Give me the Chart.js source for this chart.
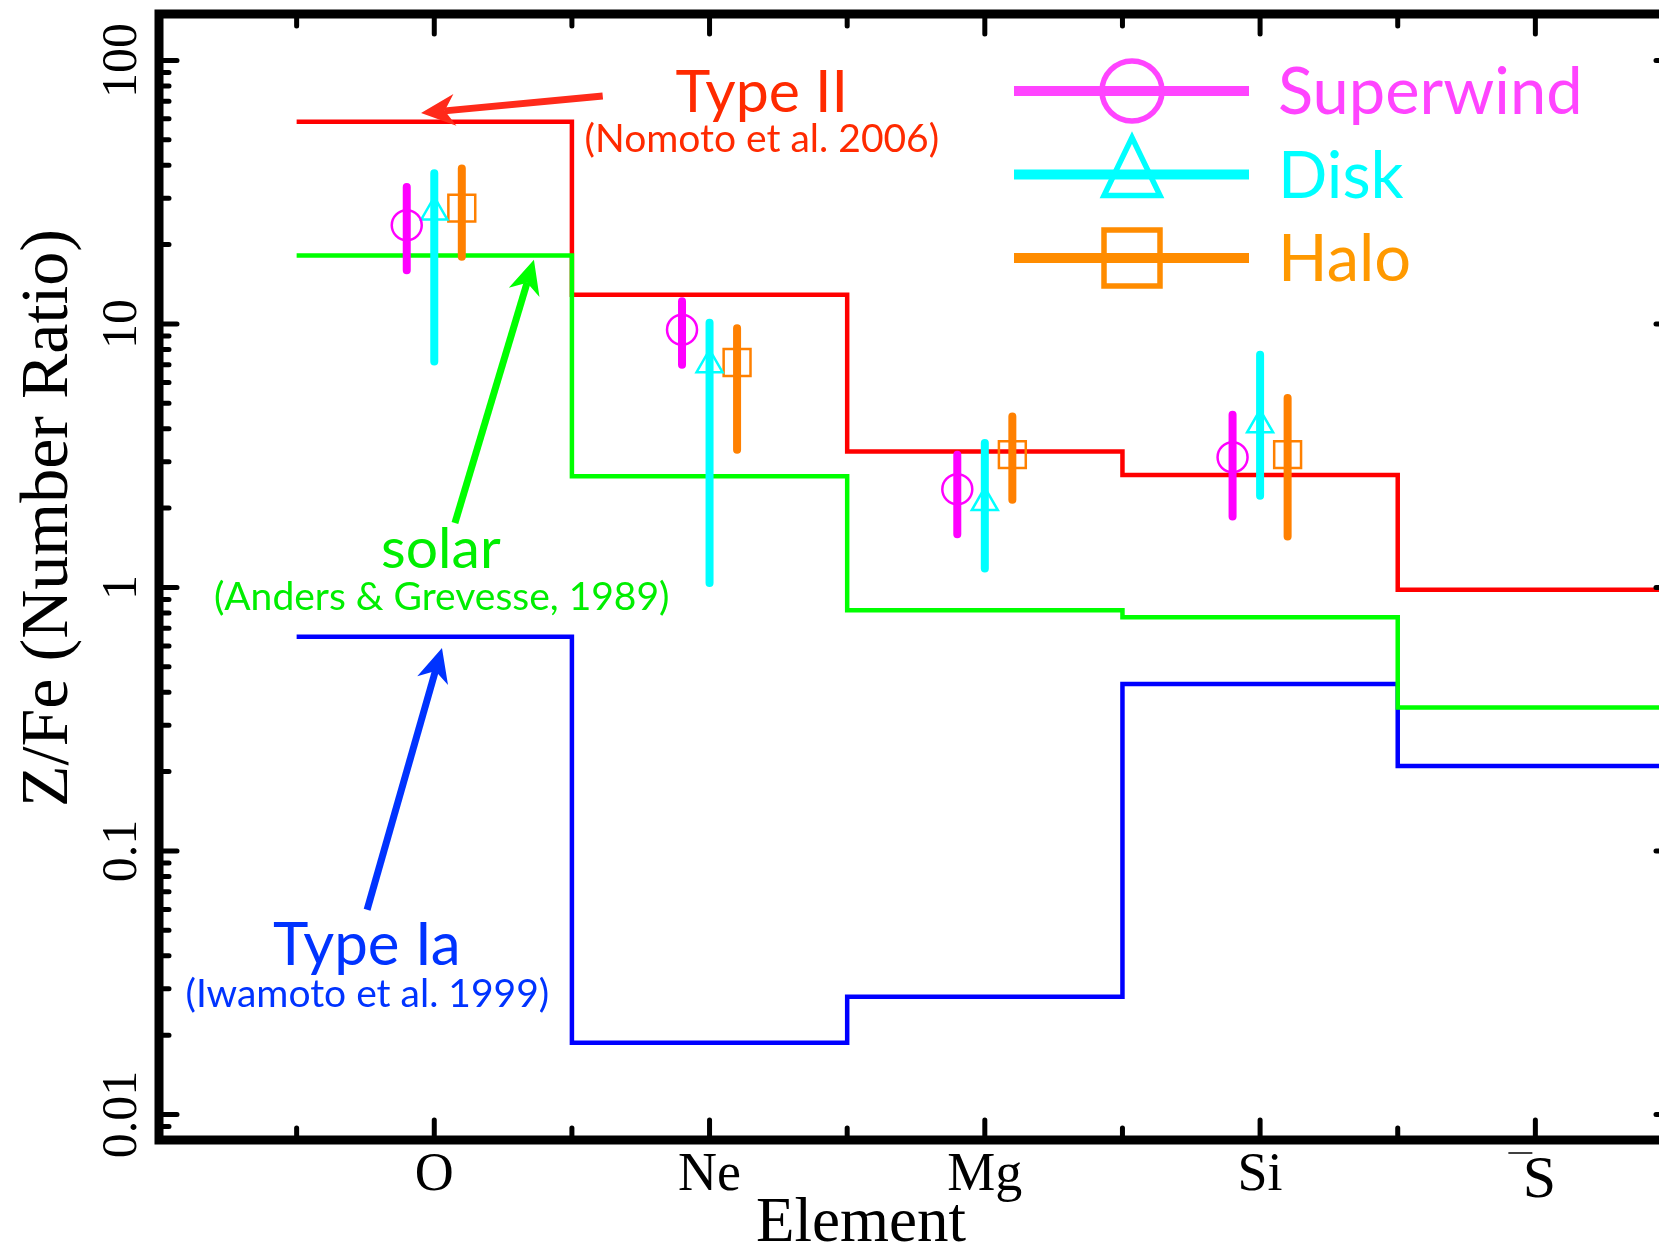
<!DOCTYPE html>
<html>
<head>
<meta charset="utf-8">
<script src="https://cdn.jsdelivr.net/npm/chart.js@4.4.1/dist/chart.umd.min.js"></script>
<style>
  html, body { margin: 0; padding: 0; background: #fff; overflow: hidden; }
  canvas { display: block; }
</style>
</head>
<body>
<canvas id="chart" width="1690" height="1245"></canvas>
<script>
// elements on the x axis
const elements = ['O', 'Ne', 'Mg', 'Si', 'S'];

// model Z/Fe number ratios (step lines)
const typeII = [58.5, 12.9, 3.28, 2.67, 0.98];
const solar = [18.2, 2.64, 0.82, 0.77, 0.35];
const typeIa = [0.65, 0.0187, 0.028, 0.43, 0.21];

// measured Z/Fe with error ranges (O, Ne, Mg, Si)
const superwind = [23.7, 9.5, 2.36, 3.12];
const superwindLo = [16.0, 7.0, 1.59, 1.86];
const superwindHi = [33.1, 12.2, 3.19, 4.52];
const disk = [26.6, 7.0, 2.10, 4.14];
const diskLo = [7.2, 1.04, 1.18, 2.23];
const diskHi = [37.3, 10.1, 3.53, 7.63];
const halo = [27.5, 7.14, 3.19, 3.19];
const haloLo = [18.0, 3.33, 2.15, 1.56];
const haloHi = [38.9, 9.63, 4.45, 5.23];

const yTicks = [0.01, 0.1, 1, 10, 100];
const yTickLabels = ['0.01', '0.1', '1', '10', '100'];

const SERIF = '"Liberation Serif", "DejaVu Serif", serif';
const SANS = 'Lato, "Open Sans", sans-serif';

// step line: each element spans x-0.5 .. x+0.5
function steps(vals) {
  const pts = vals.map((v, i) => ({ x: i - 0.5, y: v }));
  pts.push({ x: vals.length - 0.5, y: vals[vals.length - 1] });
  return pts;
}
function points(vals, off) {
  return vals.map((v, i) => ({ x: i + off, y: v }));
}
// vertical error bars, separated by gaps
function bars(lo, hi, off) {
  const pts = [];
  lo.forEach((v, i) => {
    pts.push({ x: i + off, y: v }, { x: i + off, y: hi[i] }, { x: i + off, y: null });
  });
  return pts;
}

// text notes and arrows, in data coordinates
const notes = [
  { text: 'Type II', x: 1.19, y: 63.8, size: 59, color: '#ff2a00' },
  { text: '(Nomoto et al. 2006)', x: 1.19, y: 45.0, size: 39, color: '#ff2a00' },
  { text: 'solar', x: 0.024, y: 1.18, size: 57, color: '#00ee00' },
  { text: '(Anders & Grevesse, 1989)', x: 0.027, y: 0.821, size: 39, color: '#00ee00' },
  { text: 'Type Ia', x: -0.245, y: 0.0369, size: 60, color: '#0033ff' },
  { text: '(Iwamoto et al. 1999)', x: -0.243, y: 0.0256, size: 39, color: '#0033ff' }
];
const arrows = [
  { from: [0.612, 73.3], to: [-0.048, 63.1], color: '#ff2a1a' },
  { from: [0.075, 1.755], to: [0.362, 17.5], color: '#00ff00' },
  { from: [-0.244, 0.0598], to: [0.028, 0.589], color: '#0033ff' }
];

const legendItems = [
  { label: 'Superwind', color: '#ff44ff', shape: 'circle' },
  { label: 'Disk', color: '#00ffff', shape: 'triangle' },
  { label: 'Halo', color: '#ff8c00', shape: 'square' }
];

function drawArrow(ctx, x1, y1, x2, y2, color) {
  const ang = Math.atan2(y2 - y1, x2 - x1);
  const len = 34, hw = 16;
  const c = Math.cos(ang), s = Math.sin(ang);
  const nx = x2 - c * len * 0.7, ny = y2 - s * len * 0.7;
  const bx = x2 - c * len, by = y2 - s * len;
  ctx.strokeStyle = color;
  ctx.fillStyle = color;
  ctx.lineWidth = 7;
  ctx.lineCap = 'butt';
  ctx.beginPath();
  ctx.moveTo(x1, y1);
  ctx.lineTo(nx, ny);
  ctx.stroke();
  ctx.beginPath();
  ctx.moveTo(x2, y2);
  ctx.lineTo(bx - s * hw, by + c * hw);
  ctx.lineTo(nx, ny);
  ctx.lineTo(bx + s * hw, by - c * hw);
  ctx.closePath();
  ctx.fill();
}

const decor = {
  id: 'decor',
  afterDraw(chart) {
    const { ctx, chartArea: a } = chart;
    const xs = chart.scales.x, ys = chart.scales.y;
    ctx.save();

    // arrows and notes
    arrows.forEach(ar => {
      drawArrow(ctx, xs.getPixelForValue(ar.from[0]), ys.getPixelForValue(ar.from[1]),
        xs.getPixelForValue(ar.to[0]), ys.getPixelForValue(ar.to[1]), ar.color);
    });
    ctx.textAlign = 'center';
    ctx.textBaseline = 'alphabetic';
    notes.forEach(n => {
      ctx.font = n.size + 'px ' + SANS;
      ctx.fillStyle = n.color;
      ctx.fillText(n.text, xs.getPixelForValue(n.x), ys.getPixelForValue(n.y));
    });

    // legend
    legendItems.forEach((it, i) => {
      const ly = 91 + i * 83.5;
      const mx = 1132;
      ctx.strokeStyle = it.color;
      ctx.lineWidth = 10;
      ctx.lineCap = 'butt';
      ctx.beginPath();
      ctx.moveTo(1014, ly);
      ctx.lineTo(1249, ly);
      ctx.stroke();
      ctx.lineWidth = 5.5;
      ctx.beginPath();
      if (it.shape === 'circle') {
        ctx.arc(mx, ly, 30, 0, Math.PI * 2);
      } else if (it.shape === 'triangle') {
        ctx.moveTo(mx, ly - 37);
        ctx.lineTo(mx - 28, ly + 21);
        ctx.lineTo(mx + 28, ly + 21);
        ctx.closePath();
      } else {
        ctx.rect(mx - 28, ly - 28, 56, 56);
      }
      ctx.stroke();
      ctx.font = '65px ' + SANS;
      ctx.textAlign = 'left';
      ctx.fillStyle = it.color === '#ff8c00' ? '#ff9900' : it.color;
      ctx.fillText(it.label, 1278, ly + 23);
    });

    // frame
    ctx.strokeStyle = '#000';
    ctx.lineWidth = 9;
    ctx.lineCap = 'butt';
    ctx.strokeRect(a.left, a.top, a.right - a.left, a.bottom - a.top);

    // inward ticks
    ctx.lineWidth = 5;
    ctx.lineCap = 'round';
    for (let v = -0.5; v < xs.max; v += 0.5) {
      const px = xs.getPixelForValue(v);
      const len = Number.isInteger(v) ? 20 : 12;
      ctx.beginPath();
      ctx.moveTo(px, a.bottom); ctx.lineTo(px, a.bottom - len);
      ctx.moveTo(px, a.top); ctx.lineTo(px, a.top + len);
      ctx.stroke();
    }
    for (let d = -3; d <= 2; d++) {
      for (let m = 1; m <= 9; m++) {
        const v = m * Math.pow(10, d);
        if (v <= ys.min || v >= ys.max) continue;
        const py = ys.getPixelForValue(v);
        const len = m === 1 ? 18 : 10;
        ctx.beginPath();
        ctx.moveTo(a.left, py); ctx.lineTo(a.left + len, py);
        ctx.moveTo(a.right, py); ctx.lineTo(a.right - (m === 1 ? 17 : 5), py);
        ctx.stroke();
      }
    }

    // y tick labels, rotated
    ctx.fillStyle = '#000';
    ctx.textAlign = 'center';
    ctx.font = '50px ' + SERIF;
    yTicks.forEach((v, i) => {
      ctx.save();
      ctx.translate(a.left - 23, ys.getPixelForValue(v));
      ctx.rotate(-Math.PI / 2);
      ctx.fillText(yTickLabels[i], 0, 0);
      ctx.restore();
    });

    // x tick labels
    elements.forEach((el, i) => {
      const px = xs.getPixelForValue(i);
      if (el === 'S') {
        ctx.font = '60px ' + SERIF;
        ctx.fillText(el, px + 4, a.bottom + 57);
        ctx.lineWidth = 1.5;
        ctx.lineCap = 'butt';
        ctx.beginPath();
        ctx.moveTo(px - 27, a.bottom + 13);
        ctx.lineTo(px - 3, a.bottom + 13);
        ctx.stroke();
      } else {
        ctx.font = '54px ' + SERIF;
        ctx.fillText(el, px, a.bottom + 50);
      }
    });

    // axis titles
    ctx.font = '63px ' + SERIF;
    ctx.fillText('Element', xs.getPixelForValue(1.55), a.bottom + 101);
    ctx.save();
    ctx.translate(67, (a.top + a.bottom) / 2 - 59);
    ctx.rotate(-Math.PI / 2);
    ctx.font = '68px ' + SERIF;
    ctx.fillText('Z/Fe (Number Ratio)', 0, 0);
    ctx.restore();

    ctx.restore();
  }
};

const stepStyle = (color) => ({
  borderColor: color, borderWidth: 4.5, stepped: true,
  pointRadius: 0, fill: false, borderJoinStyle: 'miter'
});
const barStyle = (color) => ({
  borderColor: color, borderWidth: 8, borderCapStyle: 'round',
  pointRadius: 0, fill: false, spanGaps: false
});
const ptStyle = (color, shape, r) => ({
  showLine: false, pointStyle: shape, pointRadius: r,
  pointBorderColor: color, pointBackgroundColor: 'rgba(0,0,0,0)',
  pointBorderWidth: 2.5, borderColor: color
});

new Chart(document.getElementById('chart'), {
  type: 'line',
  data: {
    datasets: [
      { label: 'Superwind', data: points(superwind, -0.1), ...ptStyle('#ff00ff', 'circle', 15) },
      { label: 'Disk', data: points(disk, 0), ...ptStyle('#00ffff', 'triangle', 15) },
      { label: 'Halo', data: points(halo, 0.1), ...ptStyle('#ff8000', 'rect', 19) },
      { label: 'Superwind range', data: bars(superwindLo, superwindHi, -0.1), ...barStyle('#ff00ff') },
      { label: 'Disk range', data: bars(diskLo, diskHi, 0), ...barStyle('#00ffff') },
      { label: 'Halo range', data: bars(haloLo, haloHi, 0.1), ...barStyle('#ff8000') },
      { label: 'solar', data: steps(solar), ...stepStyle('#00ff00') },
      { label: 'Type II', data: steps(typeII), ...stepStyle('#ff0000') },
      { label: 'Type Ia', data: steps(typeIa), ...stepStyle('#0000ff') }
    ]
  },
  options: {
    responsive: false,
    devicePixelRatio: 1,
    animation: false,
    events: [],
    layout: { autoPadding: false, padding: { left: 159, right: 17, top: 14, bottom: 105 } },
    plugins: { legend: { display: false }, tooltip: { enabled: false } },
    scales: {
      x: { type: 'linear', min: -1, max: 4.5, display: false },
      y: { type: 'logarithmic', min: 0.008, max: 150, display: false }
    }
  },
  plugins: [decor]
});
</script>
</body>
</html>
